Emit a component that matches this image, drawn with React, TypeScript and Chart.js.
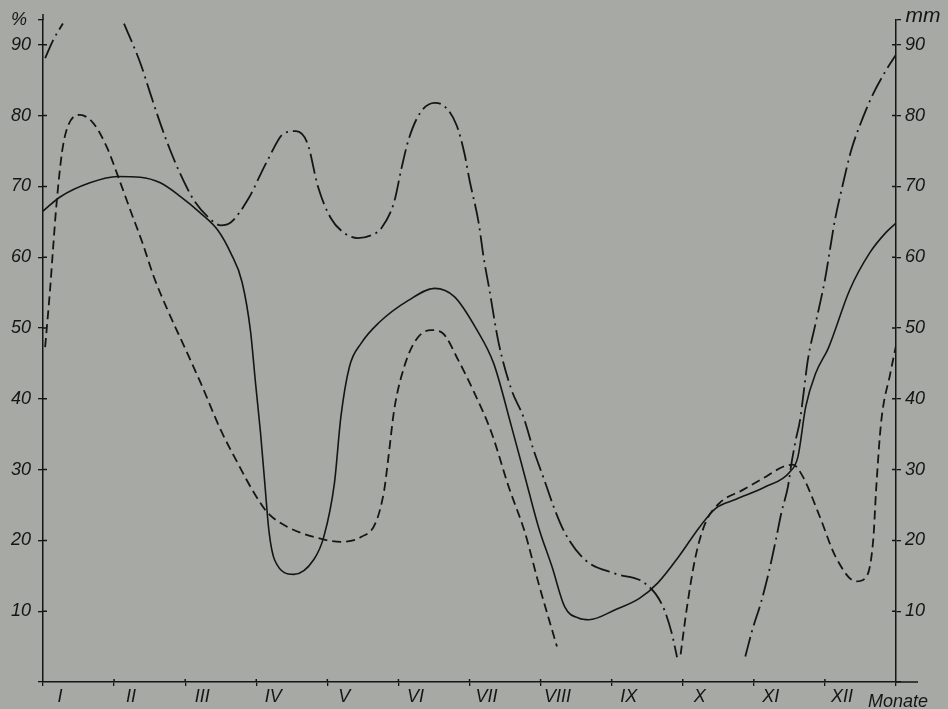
import React, { useEffect, useRef } from "react";
import { Chart, registerables } from "chart.js";

Chart.register(...registerables);

// ---------- data (x = month position, 0 = start of I, 12 = end of XII) ----------
const monthLabels = ["I", "II", "III", "IV", "V", "VI", "VII", "VIII", "IX", "X", "XI", "XII"];
const axisTicks = [10, 20, 30, 40, 50, 60, 70, 80, 90];

const solidMonths = [0.0, 0.24, 0.66, 1.05, 1.37, 1.65, 1.93, 2.22, 2.46, 2.64, 2.8, 2.92, 2.99, 3.06, 3.12, 3.18, 3.26, 3.53, 3.81, 3.95, 4.1, 4.19, 4.31, 4.48, 4.72, 5.14, 5.51, 5.79, 6.1, 6.34, 6.59, 6.78, 6.97, 7.16, 7.34, 7.54, 7.68, 8.05, 8.39, 8.65, 8.95, 9.23, 9.46, 9.75, 10.17, 10.5, 10.62, 10.73, 10.87, 11.05, 11.35, 11.63, 11.86, 12.0];
const solidValues = [66.5, 68.5, 70.5, 71.4, 71.3, 70.5, 68.6, 66.2, 63.8, 60.6, 56.5, 49.5, 42.2, 35.2, 28.1, 21.2, 17.2, 15.2, 17.3, 20.5, 28.1, 37.4, 44.5, 47.9, 50.7, 53.9, 55.6, 54.4, 49.8, 45.0, 36.1, 29.0, 21.9, 16.3, 10.6, 9.0, 8.8, 10.2, 11.8, 14.0, 17.8, 21.8, 24.5, 25.8, 27.6, 29.6, 31.8, 38.9, 43.6, 47.2, 55.4, 60.6, 63.5, 64.8];

const dashedMonths = [0.03, 0.1, 0.14, 0.19, 0.27, 0.35, 0.52, 0.71, 0.9, 1.06, 1.23, 1.4, 1.56, 1.75, 2.0, 2.22, 2.5, 2.74, 2.97, 3.16, 3.44, 3.81, 4.19, 4.48, 4.68, 4.8, 4.86, 4.94, 5.04, 5.22, 5.46, 5.62, 5.84, 6.07, 6.31, 6.55, 6.78, 6.97, 7.23, 8.1, 8.97, 9.06, 9.18, 9.32, 9.52, 9.84, 10.17, 10.41, 10.55, 10.69, 10.93, 11.15, 11.44, 11.58, 11.68, 11.72, 11.79, 11.92, 12.0];
const dashedValues = [47.3, 55.5, 61.0, 67.5, 75.0, 78.5, 80.1, 78.9, 75.5, 71.3, 66.6, 62.0, 57.2, 52.6, 47.1, 42.2, 35.6, 30.9, 26.7, 23.9, 21.9, 20.5, 19.8, 20.5, 22.5, 27.1, 31.8, 38.4, 43.1, 47.9, 49.7, 49.3, 45.5, 40.8, 35.2, 27.6, 21.1, 14.0, 5.0, null, 3.9, 10.6, 17.7, 22.5, 25.3, 27.1, 29.0, 30.4, 30.7, 29.0, 23.3, 17.7, 14.2, 14.8, 20.1, 27.1, 36.6, 43.6, 47.5];

const dashDotMonths = [0.03, 0.14, 0.28, 0.7, 1.14, 1.37, 1.51, 1.65, 1.79, 1.93, 2.12, 2.32, 2.5, 2.64, 2.88, 3.16, 3.39, 3.56, 3.72, 3.87, 4.05, 4.24, 4.43, 4.62, 4.76, 4.94, 5.04, 5.14, 5.3, 5.51, 5.65, 5.82, 5.93, 6.0, 6.13, 6.2, 6.28, 6.41, 6.59, 6.76, 6.9, 7.05, 7.19, 7.34, 7.62, 8.05, 8.46, 8.71, 8.84, 8.92, 9.4, 9.88, 9.98, 10.1, 10.22, 10.31, 10.39, 10.48, 10.53, 10.59, 10.65, 10.7, 10.76, 10.87, 11.0, 11.14, 11.25, 11.37, 11.53, 11.68, 11.86, 12.0];
const dashDotValues = [88.1, 90.6, 93.0, null, 93.0, 87.4, 83.1, 78.9, 75.1, 71.8, 68.1, 65.7, 64.5, 64.9, 68.1, 73.7, 77.5, 77.8, 76.1, 69.9, 65.5, 63.4, 62.7, 63.1, 64.1, 67.8, 72.4, 76.5, 80.3, 81.8, 81.3, 78.6, 74.6, 70.9, 64.8, 59.9, 55.4, 47.9, 41.3, 37.4, 32.8, 28.6, 24.6, 21.1, 17.3, 15.3, 14.0, 10.9, 7.1, 3.5, null, 3.6, 7.4, 11.2, 15.9, 20.1, 24.0, 27.6, 30.9, 34.2, 37.0, 40.8, 45.5, 50.7, 56.8, 65.2, 70.2, 75.1, 79.6, 83.1, 86.4, 88.6];

// ---------- styling ----------
const BG = "#a7a9a4";
const INK = "#151515";
const FONT = "'Liberation Sans', Arial, sans-serif";

const toPoints = (xs: number[], ys: (number | null)[]) => xs.map((x, i) => ({ x, y: ys[i] }));

const decorPlugin = {
  id: "decor",
  beforeDraw(chart: any) {
    const { ctx, width, height } = chart;
    ctx.save();
    ctx.fillStyle = BG;
    ctx.fillRect(0, 0, width, height);
    ctx.restore();
  },
  afterDraw(chart: any) {
    const { ctx, chartArea: a, scales } = chart;
    ctx.save();
    ctx.strokeStyle = INK;
    ctx.lineWidth = 1.5;
    ctx.beginPath();
    // axis extensions
    ctx.moveTo(a.left, a.top);
    ctx.lineTo(a.left, a.top - 6);
    ctx.moveTo(a.right, a.bottom);
    ctx.lineTo(a.right + 22, a.bottom);
    // inner halves of tick marks
    axisTicks.forEach((v) => {
      const py = scales.y.getPixelForValue(v);
      ctx.moveTo(a.left, py);
      ctx.lineTo(a.left + 4, py);
      const py2 = scales.y2.getPixelForValue(v);
      ctx.moveTo(a.right - 4, py2);
      ctx.lineTo(a.right, py2);
    });
    for (let m = 1; m <= 11; m++) {
      const px = scales.x.getPixelForValue(m);
      ctx.moveTo(px, a.bottom);
      ctx.lineTo(px, a.bottom - 3);
    }
    ctx.stroke();

    ctx.fillStyle = INK;
    ctx.textAlign = "center";
    ctx.textBaseline = "middle";
    ctx.font = `italic 18px ${FONT}`;
    ctx.fillText("%", a.left - 24, a.top);
    ctx.font = `italic 21px ${FONT}`;
    ctx.fillText("mm", a.right + 27, a.top - 4);
    ctx.font = `italic 18px ${FONT}`;
    ctx.fillText("Monate", a.right + 2, a.bottom + 20);
    ctx.restore();
  },
};

export default function App() {
  const ref = useRef<HTMLCanvasElement | null>(null);

  useEffect(() => {
    if (!ref.current) return;
    const tickFont = { family: FONT, size: 18, style: "italic" as const };
    const yTicks = {
      stepSize: 10,
      color: INK,
      font: tickFont,
      callback: (v: any) => (axisTicks.includes(Number(v)) ? String(v) : ""),
    };
    const chart = new Chart(ref.current, {
      type: "line",
      data: {
        datasets: [
          {
            label: "solid",
            data: toPoints(solidMonths, solidValues),
            borderColor: INK,
            borderWidth: 1.6,
            pointRadius: 0,
            cubicInterpolationMode: "monotone",
            yAxisID: "y",
          },
          {
            label: "dashed",
            data: toPoints(dashedMonths, dashedValues),
            borderColor: INK,
            borderWidth: 1.8,
            borderDash: [9, 5],
            pointRadius: 0,
            cubicInterpolationMode: "monotone",
            yAxisID: "y",
          },
          {
            label: "dash-dot",
            data: toPoints(dashDotMonths, dashDotValues),
            borderColor: INK,
            borderWidth: 1.8,
            borderDash: [20, 5, 2, 5],
            pointRadius: 0,
            cubicInterpolationMode: "monotone",
            yAxisID: "y",
          },
        ],
      },
      options: {
        animation: false,
        responsive: false,
        maintainAspectRatio: false,
        layout: { padding: { top: 20, left: 0, right: 0, bottom: 0 } },
        plugins: { legend: { display: false }, tooltip: { enabled: false } },
        elements: { line: { fill: false } },
        scales: {
          x: {
            type: "linear",
            min: 0,
            max: 12,
            position: "bottom",
            afterFit: (s: any) => {
              s.height = 27;
            },
            border: { display: true, color: INK, width: 1.5 },
            grid: { display: true, drawOnChartArea: false, drawTicks: true, tickLength: 4, color: INK, lineWidth: 1.3 },
            ticks: {
              stepSize: 1,
              autoSkip: false,
              maxRotation: 0,
              labelOffset: 17,
              padding: 0,
              color: INK,
              font: tickFont,
              callback: (v: any) => monthLabels[Number(v)] ?? "",
            },
          },
          y: {
            type: "linear",
            min: 0,
            max: 93.5,
            position: "left",
            afterFit: (s: any) => {
              s.width = 43;
            },
            border: { display: true, color: INK, width: 1.5 },
            grid: { display: true, drawOnChartArea: false, drawTicks: true, tickLength: 5, color: INK, lineWidth: 1.3 },
            ticks: { ...yTicks, padding: 7 },
          },
          y2: {
            type: "linear",
            min: 0,
            max: 93.5,
            position: "right",
            afterFit: (s: any) => {
              s.width = 52;
            },
            border: { display: true, color: INK, width: 1.5 },
            grid: { display: true, drawOnChartArea: false, drawTicks: true, tickLength: 5, color: INK, lineWidth: 1.3 },
            ticks: { ...yTicks, padding: 4 },
          },
        },
      },
      plugins: [decorPlugin],
    });
    return () => chart.destroy();
  }, []);

  return (
    <div style={{ position: "fixed", left: 0, top: 0, width: 948, height: 709, background: BG }}>
      <canvas ref={ref} width={948} height={709} style={{ display: "block", width: 948, height: 709 }} />
    </div>
  );
}
